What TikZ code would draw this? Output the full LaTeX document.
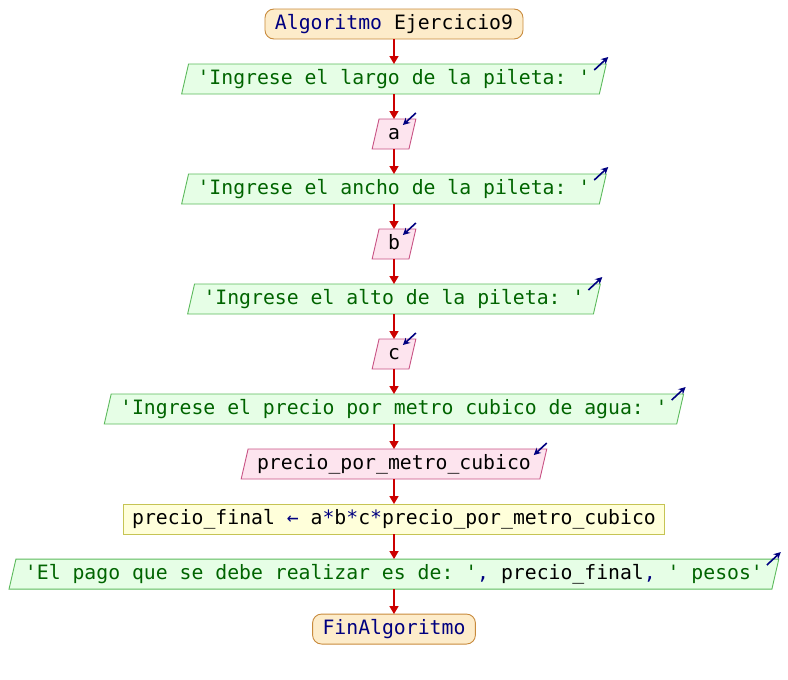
\documentclass[tikz,border=0pt]{standalone}
\usepackage{fontspec}
\setmonofont{DejaVu Sans Mono}
\usetikzlibrary{positioning,shapes.geometric,arrows.meta}

\definecolor{inicioFondo}{RGB}{253,236,202}
\definecolor{inicioBorde}{RGB}{200,138,60}
\definecolor{salidaFondo}{RGB}{230,254,230}
\definecolor{salidaBorde}{RGB}{92,186,92}
\definecolor{entradaFondo}{RGB}{253,228,238}
\definecolor{entradaBorde}{RGB}{200,82,132}
\definecolor{procesoFondo}{RGB}{255,255,218}
\definecolor{procesoBorde}{RGB}{198,196,84}
\definecolor{flecha}{RGB}{204,0,0}
\definecolor{azul}{RGB}{0,0,128}
\definecolor{cadena}{RGB}{0,100,0}

\newcommand{\azul}[1]{\textcolor{azul}{#1}}
\newcommand{\cad}[1]{\textcolor{cadena}{#1}}

\begin{document}
\begin{tikzpicture}[x=1pt, y=1pt, node distance=25pt,
        font=\ttfamily\fontsize{19.77}{22}\selectfont,
        base/.style={draw, line width=0.9pt, outer sep=0pt, minimum height=30pt, text height=15pt, text depth=4pt, inner ysep=0pt},
        terminal/.style={base, rectangle, rounded corners=9pt, fill=inicioFondo, draw=inicioBorde, inner xsep=10pt},
        salida/.style={base, trapezium, trapezium stretches=true, trapezium left angle=70, trapezium right angle=110, fill=salidaFondo, draw=salidaBorde, inner xsep=9pt},
        entrada/.style={salida, fill=entradaFondo, draw=entradaBorde},
        proceso/.style={base, rectangle, fill=procesoFondo, draw=procesoBorde, inner xsep=9pt},
        flujo/.style={-{Triangle[length=8pt,width=9pt]}, draw=flecha, line width=1.6pt},
        icono/.style={-{Stealth[length=7pt,width=7pt]}, draw=azul, line width=1.6pt}]

    \useasboundingbox ( 0, 0 ) rectangle ( 788, -680 );

    % nodos del diagrama
    \node [terminal] (inicio) at ( 394, -24 ) {\azul{Algoritmo} Ejercicio9};
    \node [salida, below=of inicio] (msjA) {\cad{'Ingrese el largo de la pileta: '}};
    \node [entrada, below=of msjA] (leerA) {a};
    \node [salida, below=of leerA] (msjB) {\cad{'Ingrese el ancho de la pileta: '}};
    \node [entrada, below=of msjB] (leerB) {b};
    \node [salida, below=of leerB] (msjC) {\cad{'Ingrese el alto de la pileta: '}};
    \node [entrada, below=of msjC] (leerC) {c};
    \node [salida, below=of leerC] (msjD) {\cad{'Ingrese el precio por metro cubico de agua: '}};
    \node [entrada, below=of msjD] (leerP) {precio\_por\_metro\_cubico};
    \node [proceso, below=of leerP] (calc) {precio\_final \azul{←} a\azul{*}b\azul{*}c\azul{*}precio\_por\_metro\_cubico};
    \node [salida, below=of calc] (msjE) {\cad{'El pago que se debe realizar es de: '}\azul{,} precio\_final\azul{,} \cad{' pesos'}};
    \node [terminal, below=of msjE] (fin) {\azul{FinAlgoritmo}};

    % flechas de flujo
    \draw [flujo] (inicio) -- (msjA);
    \draw [flujo] (msjA) -- (leerA);
    \draw [flujo] (leerA) -- (msjB);
    \draw [flujo] (msjB) -- (leerB);
    \draw [flujo] (leerB) -- (msjC);
    \draw [flujo] (msjC) -- (leerC);
    \draw [flujo] (leerC) -- (msjD);
    \draw [flujo] (msjD) -- (leerP);
    \draw [flujo] (leerP) -- (calc);
    \draw [flujo] (calc) -- (msjE);
    \draw [flujo] (msjE) -- (fin);

    % iconos de escritura y lectura
    \foreach \n in {msjA,msjB,msjC,msjD,msjE}
        \draw [icono] ([shift={(-12,-6)}]\n.top right corner) -- ++( 14, 13 );
    \foreach \n in {leerA,leerB,leerC,leerP}
        \draw [icono] ([shift={(0,6)}]\n.top right corner) -- ++( -13, -12 );
\end{tikzpicture}
\end{document}
